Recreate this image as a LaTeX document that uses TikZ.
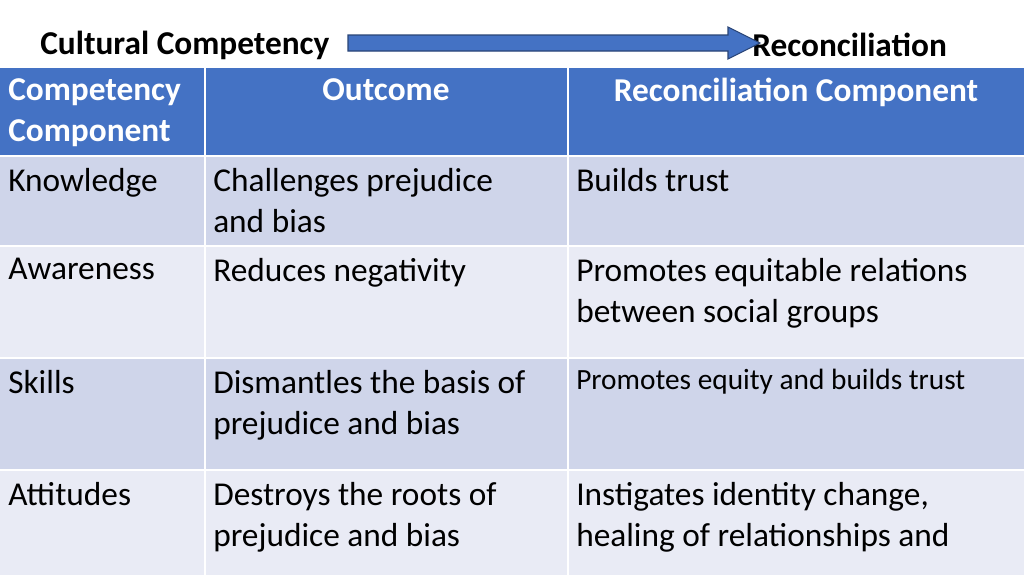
\documentclass[tikz,border=0pt]{standalone}
\usepackage{fontspec}
\setmainfont{Carlito}
\definecolor{hdr}{HTML}{4472C4}
\definecolor{rowA}{HTML}{CFD5EA}
\definecolor{rowB}{HTML}{E9EBF5}
\begin{document}
\begin{tikzpicture}[x=0.75pt,y=-0.75pt,
  cell/.style={anchor=north west,inner sep=0pt,align=left,font=\fontsize{25}{30.75}\selectfont},
  hcell/.style={cell,text=white,font=\fontsize{25}{30.75}\selectfont\bfseries},
  ttl/.style={inner sep=0pt,font=\fontsize{25}{28}\selectfont\bfseries}]
\useasboundingbox (0,0) rectangle (1024,575);
\fill[white] (0,0) rectangle (1024,575);
% backgrounds
\fill[hdr] (0,68) rectangle (1024,156);
\fill[rowA] (0,156) rectangle (1024,246);
\fill[rowB] (0,246) rectangle (1024,358);
\fill[rowA] (0,358) rectangle (1024,470);
\fill[rowB] (0,470) rectangle (1024,575);
\foreach \y in {156,246,358,470} \draw[white,line width=1.5pt] (0,\y) -- (1024,\y);
\foreach \x in {205,568} \draw[white,line width=1.5pt] (\x,68) -- (\x,575);
% title
\node[ttl,anchor=west] (t1) at (40,45) {Cultural Competency};
\node[ttl,anchor=west] (t2) at (752,45) {Reconciliation};
\fill[hdr,draw=hdr!60!black,line width=0.8pt] (348,35) -- (728,35) -- (728,27) -- (760,43) -- (728,59) -- (728,51) -- (348,51) -- cycle;
% header
\node[hcell] (h1) at (8,78) {Competency\\Component};
\node[hcell,anchor=north] (h2) at (386,78) {Outcome};
\node[hcell,anchor=north] (h3) at (796,78) {Reconciliation Component};
% rows
\node[cell] (a1) at (8,168) {Knowledge};
\node[cell] (a2) at (213,168) {Challenges prejudice\\and bias};
\node[cell] (a3) at (576,168) {Builds trust};
\node[cell] (b1) at (8,258) {Awareness};
\node[cell] (b2) at (213,258) {Reduces negativity};
\node[cell] (b3) at (576,258) {Promotes equitable relations\\between social groups};
\node[cell] (c1) at (8,370) {Skills};
\node[cell] (c2) at (213,370) {Dismantles the basis of\\prejudice and bias};
\node[cell,font=\fontsize{22}{26}\selectfont] (c3) at (576,369) {Promotes equity and builds trust};
\node[cell] (d1) at (8,482) {Attitudes};
\node[cell] (d2) at (213,482) {Destroys the roots of\\prejudice and bias};
\node[cell] (d3) at (576,482) {Instigates identity change,\\healing of relationships and};
\end{tikzpicture}
\end{document}
